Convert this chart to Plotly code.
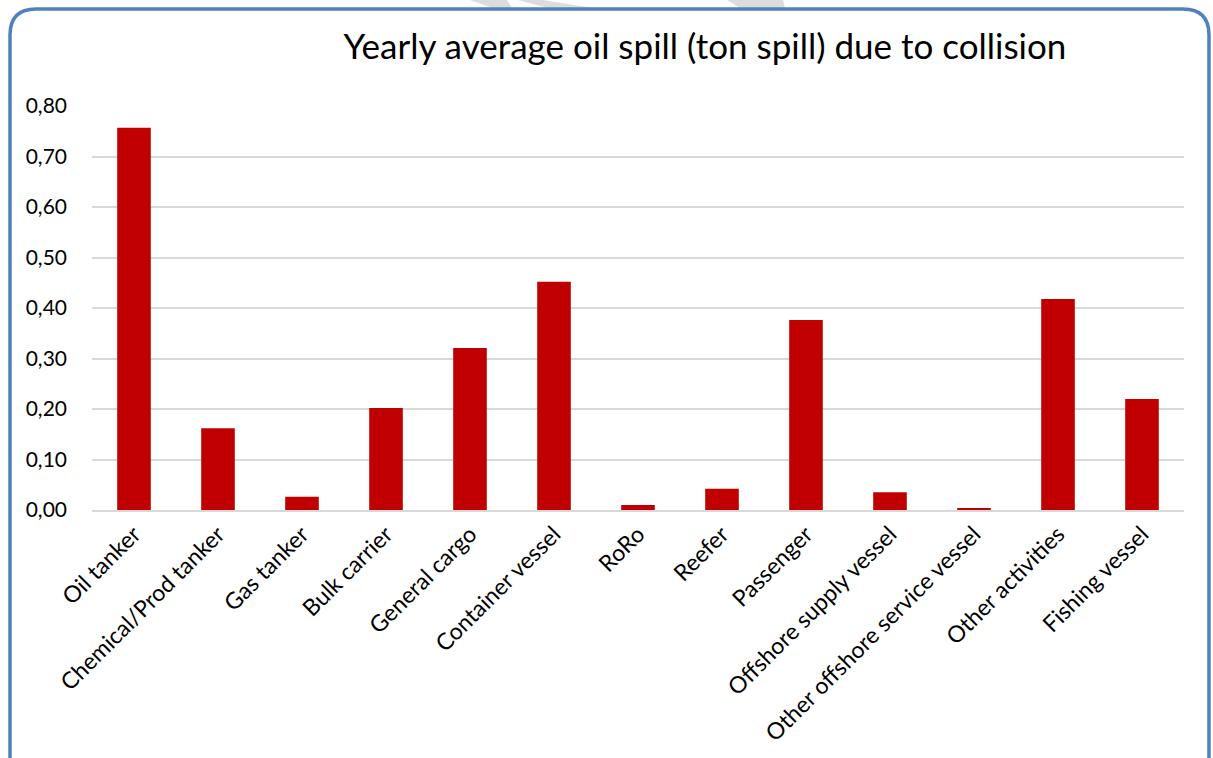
import plotly.graph_objects as go

categories = [
    "Oil tanker", "Chemical/Prod tanker", "Gas tanker", "Bulk carrier",
    "General cargo", "Container vessel", "RoRo", "Reefer", "Passenger",
    "Offshore supply vessel", "Other offshore service vessel",
    "Other activities", "Fishing vessel",
]
spill_tons = [0.757, 0.162, 0.026, 0.202, 0.321, 0.452, 0.010, 0.042,
              0.376, 0.035, 0.003, 0.418, 0.220]
y_ticks = [0.0, 0.1, 0.2, 0.3, 0.4, 0.5, 0.6, 0.7, 0.8]

W, H = 1213, 758
L, R, T, B = 92, 29, 106, 248
pw, ph = W - L - R, H - T - B


def px_to_paper(x, y):
    return (x - L) / pw, (H - B - y) / ph


def rounded_rect_path(x0, y0, x1, y1, r):
    def p(x, y):
        a, b = px_to_paper(x, y)
        return f"{a:.5f},{b:.5f}"
    return (
        f"M {p(x0 + r, y0)} L {p(x1 - r, y0)} Q {p(x1, y0)} {p(x1, y0 + r)} "
        f"L {p(x1, y1 - r)} Q {p(x1, y1)} {p(x1 - r, y1)} "
        f"L {p(x0 + r, y1)} Q {p(x0, y1)} {p(x0, y1 - r)} "
        f"L {p(x0, y0 + r)} Q {p(x0, y0)} {p(x0 + r, y0)} Z"
    )


def poly_path(points):
    parts = []
    for i, (x, y) in enumerate(points):
        a, b = px_to_paper(x, y)
        parts.append(("M " if i == 0 else "L ") + f"{a:.5f},{b:.5f}")
    return " ".join(parts) + " Z"


font_family = "Lato, Open Sans, sans-serif"

fig = go.Figure(
    go.Bar(
        x=categories,
        y=spill_tons,
        marker=dict(color="#C00000", line=dict(width=0)),
        hoverinfo="x+y",
    )
)

shapes = [
    # faint grey strokes above the frame
    dict(type="path", xref="paper", yref="paper", layer="below",
         path=poly_path([(470, 0), (507, 0), (512, 8), (492, 8)]),
         fillcolor="#DCDCDC", line=dict(width=0)),
    dict(type="path", xref="paper", yref="paper", layer="below",
         path=poly_path([(518, 0), (543, 0), (592, 8), (548, 8)]),
         fillcolor="#DCDCDC", line=dict(width=0)),
    dict(type="path", xref="paper", yref="paper", layer="below",
         path=poly_path([(727, 0), (783, 0), (785, 8), (740, 8)]),
         fillcolor="#DCDCDC", line=dict(width=0)),
    # chart frame
    dict(type="path", xref="paper", yref="paper", layer="above",
         path=rounded_rect_path(10, 9, 1209, 790, 26),
         line=dict(color="#4F81BD", width=3.5), fillcolor="rgba(0,0,0,0)"),
]

fig.update_layout(
    width=W, height=H,
    margin=dict(l=L, r=R, t=T, b=B),
    paper_bgcolor="white", plot_bgcolor="white",
    separators=",.",
    bargap=0.6,
    showlegend=False,
    font=dict(family=font_family, color="#000000"),
    title=dict(
        text="Yearly average oil spill (ton spill) due to collision",
        font=dict(size=35, family=font_family, color="#000000"),
        x=705 / W, xanchor="center",
        y=1 - 47 / H, yanchor="middle",
    ),
    shapes=shapes,
)

fig.update_yaxes(
    range=[0, 0.8],
    tickvals=y_ticks,
    tickformat=".2f",
    showgrid=True, gridcolor="#D9D9D9", gridwidth=1.5,
    zeroline=False, showline=False,
    ticks="", ticklabelstandoff=24,
    tickfont=dict(size=21, family=font_family, color="#000000"),
)
fig.update_xaxes(
    showline=True, linecolor="#D9D9D9", linewidth=1.5,
    ticks="", tickangle=-45,
    tickfont=dict(size=23, family=font_family, color="#000000"),
)

fig.write_html("out.html")
